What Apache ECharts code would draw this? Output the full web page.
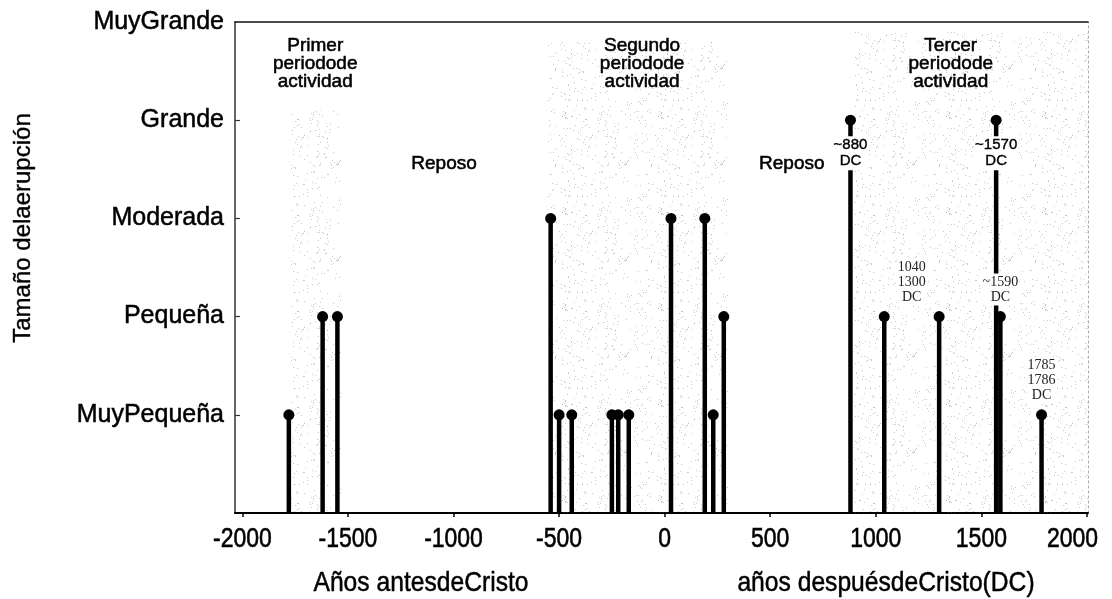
<!DOCTYPE html>
<html>
<head>
<meta charset="utf-8">
<script src="https://cdn.jsdelivr.net/npm/echarts@6/dist/echarts.min.js"></script>
<style>
  html, body { margin: 0; padding: 0; background: #fff; }
  #chart { width: 1112px; height: 599px; }
</style>
</head>
<body>
<div id="chart"></div>
<script>
// Eruption sizes, from smallest (1) to largest (5)
const sizeNames = ['MuyPequeña', 'Pequeña', 'Moderada', 'Grande', 'MuyGrande'];

// Eruptions: year (negative = antes de Cristo) and size level
const eruptionYears  = [-1780, -1620, -1550, -540, -500, -440, -250, -220, -170, 30, 190, 230, 280, 880, 1040, 1300, 1570, 1590, 1785];
const eruptionLevels = [1, 2, 2, 3, 1, 1, 1, 1, 1, 3, 3, 1, 2, 4, 2, 2, 4, 2, 1];

// Date notes written next to some eruptions
const dateNoteTexts = ['~880\nDC', '~1570\nDC', '1040\n1300\nDC', '~1590\nDC', '1785\n1786\nDC'];
const dateNoteYears = [[880], [1570], [1040, 1300], [1590], [1785]];
const dateNoteLevels = [4, 4, 2, 2, 1];

// Periods of activity (years)
const periodNames = ['Primer\nperiodode\nactividad', 'Segundo\nperiodode\nactividad', 'Tercer\nperiodode\nactividad'];
const periodStart = [-1770, -555, 900];
const periodEnd   = [-1530, 310, 2005];

// Year axis tick values
const yearTicks = [-2000, -1500, -1000, -500, 0, 500, 1000, 1500, 2000];

const SANS = "'Liberation Sans', Arial, Helvetica, sans-serif";
const SERIF = "'Liberation Serif', 'Times New Roman', serif";
const NARROW_X = 0.82; // horizontal squeeze giving a narrow face

// light stippled fill for the activity periods
function stipple() {
  const n = 96;
  const c = document.createElement('canvas');
  c.width = n; c.height = n;
  const g = c.getContext('2d');
  let s = 12345;
  const next = () => (s = (s * 16807) % 2147483647) / 2147483647;
  g.fillStyle = 'rgba(110,110,110,0.38)';
  for (let i = 0; i < 280; i++) {
    g.fillRect(Math.floor(next() * n), Math.floor(next() * n), 1, 1);
  }
  return c;
}
const stippleFill = { image: stipple(), repeat: 'repeat' };
const periodTops = [4.1, 4.8, 4.9];

const chart = echarts.init(document.getElementById('chart'), null, { renderer: 'canvas' });

const eruptionData = eruptionYears.map((y, i) => [y, eruptionLevels[i]]);
const noteData = dateNoteTexts.map((t, i) => {
  const ys = dateNoteYears[i];
  const mid = ys.reduce((a, b) => a + b, 0) / ys.length;
  return [mid, dateNoteLevels[i], t];
});

// text placed in the plot: period titles and the rest intervals
const plotNotes = [
  [-1655, 4.57, periodNames[0]],
  [-107, 4.57, periodNames[1]],
  [1355, 4.57, periodNames[2]],
  [-1045, 3.56, 'Reposo'],
  [602, 3.56, 'Reposo']
];

const tickLabelData = yearTicks.map(v => [v, 0]);
const labelRightLimit = 1098; // year labels stay left of this x

chart.setOption({
  animation: false,
  backgroundColor: '#fff',
  grid: { left: 235, right: 24, top: 22, bottom: 86, containLabel: false, outerBoundsMode: 'none' },
  xAxis: [
    {
      type: 'value', min: -2035, max: 2005, position: 'bottom',
      axisLine: { show: true, onZero: false, lineStyle: { color: '#000', width: 2 } },
      axisTick: { show: true, customValues: yearTicks, length: 4, lineStyle: { color: '#000', width: 1.5 } },
      axisLabel: { show: false },
      splitLine: { show: false }
    },
    {
      type: 'value', min: -2035, max: 2005, position: 'top',
      axisLine: { show: true, onZero: false, lineStyle: { color: '#111', width: 1.5 } },
      axisTick: { show: false }, axisLabel: { show: false }, splitLine: { show: false }
    }
  ],
  yAxis: [
    {
      type: 'value', min: 0, max: 5, position: 'left',
      axisLine: { show: true, onZero: false, lineStyle: { color: '#333', width: 1.5 } },
      axisTick: { show: true, inside: true, length: 5, customValues: [1, 2, 3, 4], lineStyle: { color: '#333', width: 1.2 } },
      axisLabel: {
        customValues: [1, 2, 3, 4, 5],
        formatter: v => sizeNames[v - 1] || '',
        color: '#000', fontFamily: SANS, fontSize: 25, margin: 11,
        textBorderColor: '#000', textBorderWidth: 0.5
      },
      splitLine: { show: false }
    },
    {
      type: 'value', min: 0, max: 5, position: 'right',
      axisLine: { show: true, onZero: false, lineStyle: { color: '#aaa', width: 1, type: [2, 3] } },
      axisTick: { show: false }, axisLabel: { show: false }, splitLine: { show: false }
    }
  ],
  graphic: [
    {
      type: 'text', x: 421, y: 583, scaleX: 0.88, z: 10,
      style: { text: 'Años antesdeCristo', fill: '#000', font: '28px ' + SANS, align: 'center', verticalAlign: 'middle', stroke: '#000', lineWidth: 0.5 }
    },
    {
      type: 'text', x: 886, y: 583, scaleX: 0.88, z: 10,
      style: { text: 'años despuésdeCristo(DC)', fill: '#000', font: '28px ' + SANS, align: 'center', verticalAlign: 'middle', stroke: '#000', lineWidth: 0.5 }
    },
    {
      type: 'text', x: 23, y: 228, rotation: Math.PI / 2, z: 10,
      style: { text: 'Tamaño delaerupción', fill: '#000', font: '24px ' + SANS, align: 'center', verticalAlign: 'middle', stroke: '#000', lineWidth: 0.4 }
    }
  ],
  series: [
    {
      name: 'periodos', type: 'scatter', data: [], silent: true,
      markArea: {
        silent: true,
        itemStyle: { color: stippleFill },
        label: { show: false },
        data: periodStart.map((s, i) => [{ coord: [s, 0] }, { coord: [periodEnd[i], periodTops[i]] }])
      }
    },
    {
      // year labels under the axis, in a narrow face
      name: 'años', type: 'custom', silent: true, clip: false, z: 3,
      data: tickLabelData,
      renderItem: (params, api) => {
        const p = api.coord([api.value(0), 0]);
        const txt = String(api.value(0));
        const half = txt.length * 0.556 * 28 * NARROW_X / 2;
        const overflow = p[0] + half > labelRightLimit;
        return {
          type: 'text', x: overflow ? labelRightLimit : p[0], y: p[1] + 26, scaleX: NARROW_X,
          style: {
            text: txt, fill: '#000', font: '28px ' + SANS,
            align: overflow ? 'right' : 'center', verticalAlign: 'middle', stroke: '#000', lineWidth: 0.6
          }
        };
      }
    },
    {
      name: 'textos', type: 'custom', silent: true, z: 3,
      data: plotNotes,
      renderItem: (params, api) => {
        const p = api.coord([api.value(0), api.value(1)]);
        const d = plotNotes[params.dataIndex];
        return {
          type: 'text', x: p[0], y: p[1],
          style: {
            text: d[2], fill: '#000', font: '19px ' + SANS, lineHeight: 18,
            align: 'center', verticalAlign: 'middle',
            stroke: '#000', lineWidth: 0.55
          }
        };
      }
    },
    {
      name: 'erupciones', type: 'custom', z: 4,
      data: eruptionData,
      renderItem: (params, api) => {
        const x = api.value(0), lvl = api.value(1);
        const base = api.coord([x, 0]);
        const top = api.coord([x, lvl]);
        return {
          type: 'group',
          children: [
            { type: 'line', shape: { x1: base[0], y1: base[1], x2: top[0], y2: top[1] }, style: { stroke: '#000', lineWidth: 4.5 } },
            { type: 'circle', shape: { cx: top[0], cy: top[1], r: 5.5 }, style: { fill: '#000' } }
          ]
        };
      }
    },
    {
      name: 'fechas', type: 'custom', z: 5, silent: true,
      data: noteData,
      renderItem: (params, api) => {
        const p = api.coord([api.value(0), api.value(1)]);
        const d = noteData[params.dataIndex];
        const below = d[1] >= 4;
        return {
          type: 'text', x: p[0], y: below ? p[1] + 16 : p[1] - 11,
          style: {
            text: d[2],
            fill: below ? '#000' : '#222',
            font: below ? '15px ' + SANS : '14px ' + SERIF,
            lineHeight: below ? 16 : 15,
            align: 'center', verticalAlign: below ? 'top' : 'bottom',
            backgroundColor: '#fff', padding: [1, 1],
            stroke: below ? '#000' : null, lineWidth: below ? 0.4 : 0
          }
        };
      }
    }
  ]
});
</script>
</body>
</html>
